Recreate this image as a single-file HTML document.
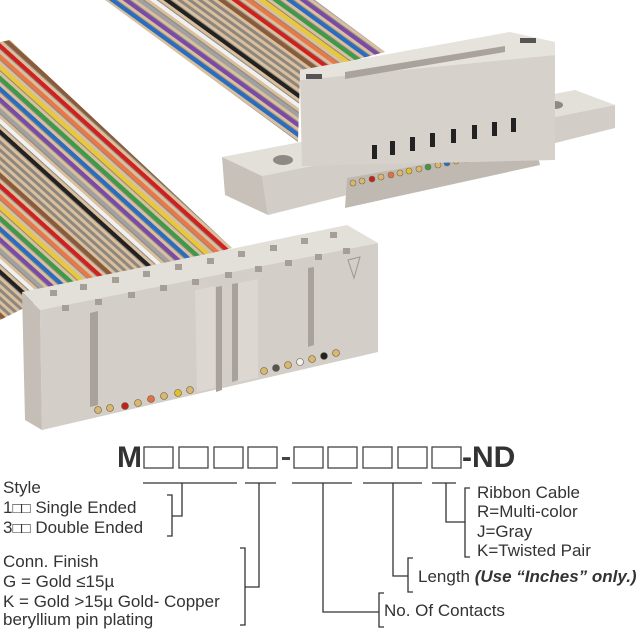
<!DOCTYPE html>
<html><head><meta charset="utf-8"><style>
html,body{margin:0;padding:0;background:#fff;}
svg{display:block;}
text{font-family:"Liberation Sans",Arial,sans-serif;fill:#333;}
</style></head><body>
<svg width="640" height="640" viewBox="0 0 640 640" xmlns="http://www.w3.org/2000/svg">
<defs>
<pattern id="wl" width="104" height="8" patternUnits="userSpaceOnUse" patternTransform="rotate(-48)">
<rect width="104" height="8" fill="#8d8780"/>
<rect x="0" y="0" width="3" height="8" fill="#d9bf9c"/><rect x="4" y="0" width="4" height="8" fill="#222"/>
<rect x="8" y="0" width="3" height="8" fill="#d9bf9c"/><rect x="12" y="0" width="4" height="8" fill="#f0f0f0"/>
<rect x="16" y="0" width="3" height="8" fill="#d9bf9c"/><rect x="20" y="0" width="4" height="8" fill="#a0a0a0"/>
<rect x="24" y="0" width="3" height="8" fill="#d9bf9c"/><rect x="28" y="0" width="4" height="8" fill="#7a4aa8"/>
<rect x="32" y="0" width="3" height="8" fill="#d9bf9c"/><rect x="36" y="0" width="4" height="8" fill="#2a6cc0"/>
<rect x="40" y="0" width="3" height="8" fill="#d9bf9c"/><rect x="44" y="0" width="4" height="8" fill="#3c9a48"/>
<rect x="48" y="0" width="3" height="8" fill="#d9bf9c"/><rect x="52" y="0" width="4" height="8" fill="#e8c838"/>
<rect x="56" y="0" width="3" height="8" fill="#d9bf9c"/><rect x="60" y="0" width="4" height="8" fill="#e8784a"/>
<rect x="64" y="0" width="3" height="8" fill="#d9bf9c"/><rect x="68" y="0" width="4" height="8" fill="#d02020"/>
<rect x="72" y="0" width="3" height="8" fill="#d9bf9c"/><rect x="76" y="0" width="4" height="8" fill="#8a5a3a"/>
<rect x="80" y="0" width="3" height="8" fill="#d9bf9c"/><rect x="86" y="0" width="3" height="8" fill="#d9bf9c"/>
<rect x="92" y="0" width="3" height="8" fill="#d9bf9c"/><rect x="98" y="0" width="3" height="8" fill="#d9bf9c"/>
</pattern>
<pattern id="wv" width="8" height="104" patternUnits="userSpaceOnUse" patternTransform="rotate(36)">
<rect width="8" height="104" fill="#8d8780"/>
<rect y="0" width="8" height="3" fill="#d9bf9c"/><rect y="4" width="8" height="4" fill="#222"/>
<rect y="8" width="8" height="3" fill="#d9bf9c"/><rect y="12" width="8" height="4" fill="#f0f0f0"/>
<rect y="16" width="8" height="3" fill="#d9bf9c"/><rect y="20" width="8" height="4" fill="#a0a0a0"/>
<rect y="24" width="8" height="3" fill="#d9bf9c"/><rect y="28" width="8" height="4" fill="#7a4aa8"/>
<rect y="32" width="8" height="3" fill="#d9bf9c"/><rect y="36" width="8" height="4" fill="#2a6cc0"/>
<rect y="40" width="8" height="3" fill="#d9bf9c"/><rect y="44" width="8" height="4" fill="#3c9a48"/>
<rect y="48" width="8" height="3" fill="#d9bf9c"/><rect y="52" width="8" height="4" fill="#e8c838"/>
<rect y="56" width="8" height="3" fill="#d9bf9c"/><rect y="60" width="8" height="4" fill="#e8784a"/>
<rect y="64" width="8" height="3" fill="#d9bf9c"/><rect y="68" width="8" height="4" fill="#d02020"/>
<rect y="72" width="8" height="3" fill="#d9bf9c"/><rect y="76" width="8" height="4" fill="#8a5a3a"/>
<rect y="80" width="8" height="3" fill="#d9bf9c"/><rect y="86" width="8" height="3" fill="#d9bf9c"/>
<rect y="92" width="8" height="3" fill="#d9bf9c"/><rect y="98" width="8" height="3" fill="#d9bf9c"/>
</pattern>
</defs>

<polygon points="105,0 315,0 385,52 300,75 298,142" fill="url(#wv)"/>
<polygon points="0,42 10,40 232,248 40,300 0,320" fill="url(#wl)"/>

<polygon points="222,157 575,90 615,105 262,176" fill="#e3dfd9"/>
<polygon points="262,176 615,105 615,128 268,215" fill="#d2cdc6"/>
<polygon points="222,157 262,176 268,215 225,195" fill="#c7c1b9"/>
<ellipse cx="283" cy="160" rx="10" ry="5" fill="#8f8983"/>
<ellipse cx="555" cy="105" rx="8" ry="4" fill="#8f8983"/>
<polygon points="347,178 535,145 540,165 345,208" fill="#bfb9b1"/>
<g fill="#d8b870" stroke="#7a6a4a" stroke-width="0.6">
<circle cx="353" cy="183" r="3"/><circle cx="362" cy="181" r="3"/><circle cx="372" cy="179" r="3" fill="#c02020"/><circle cx="381" cy="177" r="3"/><circle cx="391" cy="175" r="3" fill="#e0704a"/><circle cx="400" cy="173" r="3"/><circle cx="409" cy="171" r="3" fill="#e0c030"/><circle cx="419" cy="169" r="3"/><circle cx="428" cy="167" r="3" fill="#3a9a48"/><circle cx="438" cy="165" r="3"/><circle cx="447" cy="163" r="3" fill="#2a6cc0"/><circle cx="456" cy="161" r="3"/><circle cx="466" cy="159" r="3" fill="#7a4aa8"/><circle cx="475" cy="157" r="3"/><circle cx="484" cy="155" r="3" fill="#a0a0a0"/><circle cx="494" cy="153" r="3"/><circle cx="503" cy="151" r="3" fill="#f0f0f0"/><circle cx="512" cy="149" r="3"/><circle cx="522" cy="147" r="3" fill="#222"/><circle cx="531" cy="146" r="3"/>
</g>
<polygon points="300,80 300,70 510,32 555,42 555,55" fill="#e6e2dc"/>
<polygon points="300,80 555,55 555,160 302,166" fill="#d6d1ca"/>
<polygon points="345,72 505,46 505,52 345,79" fill="#a9a39b"/>
<g fill="#222">
<rect x="372" y="145" width="5" height="14"/><rect x="390" y="141" width="5" height="14"/><rect x="410" y="137" width="5" height="14"/><rect x="430" y="133" width="5" height="14"/><rect x="451" y="129" width="5" height="14"/><rect x="472" y="125" width="5" height="14"/><rect x="492" y="122" width="5" height="14"/><rect x="511" y="118" width="5" height="14"/>
</g>
<g fill="#555">
<rect x="306" y="74" width="16" height="5"/><rect x="520" y="38" width="16" height="5"/>
</g>

<polygon points="22,292 347,225 378,243 40,310" fill="#e3dfd9"/>
<polygon points="40,310 378,243 378,352 42,430" fill="#d3cec7"/>
<polygon points="22,292 40,310 42,430 25,420" fill="#c4beb6"/>
<g fill="#a59f97">
<rect x="50" y="290" width="7" height="6"/><rect x="80" y="284" width="7" height="6"/><rect x="112" y="277" width="7" height="6"/><rect x="143" y="271" width="7" height="6"/><rect x="175" y="264" width="7" height="6"/><rect x="207" y="258" width="7" height="6"/><rect x="238" y="251" width="7" height="6"/><rect x="270" y="245" width="7" height="6"/><rect x="301" y="238" width="7" height="6"/><rect x="330" y="232" width="7" height="6"/>
<rect x="62" y="305" width="7" height="6"/><rect x="95" y="299" width="7" height="6"/><rect x="128" y="292" width="7" height="6"/><rect x="160" y="285" width="7" height="6"/><rect x="192" y="279" width="7" height="6"/><rect x="225" y="272" width="7" height="6"/><rect x="255" y="266" width="7" height="6"/><rect x="285" y="260" width="7" height="6"/><rect x="315" y="254" width="7" height="6"/><rect x="343" y="248" width="7" height="6"/>
</g>
<g fill="#a8a29a">
<polygon points="90,313 98,311 98,405 90,407"/><polygon points="216,287 222,286 222,390 216,392"/><polygon points="232,284 238,283 238,380 232,382"/><polygon points="308,268 314,267 314,345 308,347"/>
</g>
<polygon points="195,290 215,286 215,388 197,392" fill="#dcd7d0"/>
<polygon points="238,283 258,279 258,378 238,382" fill="#dcd7d0"/>
<polygon points="348,260 360,257 354,278" fill="none" stroke="#999" stroke-width="1"/>
<g fill="#d8b870" stroke="#6a5a3a" stroke-width="0.6">
<circle cx="98" cy="410" r="3.5"/><circle cx="110" cy="408" r="3.5"/><circle cx="125" cy="406" r="3.5" fill="#c02020"/><circle cx="138" cy="403" r="3.5"/><circle cx="151" cy="399" r="3.5" fill="#e0704a"/><circle cx="164" cy="396" r="3.5"/><circle cx="178" cy="393" r="3.5" fill="#e0c030"/><circle cx="190" cy="390" r="3.5"/>
<circle cx="264" cy="371" r="3.5"/><circle cx="276" cy="368" r="3.5" fill="#555"/><circle cx="288" cy="365" r="3.5"/><circle cx="300" cy="362" r="3.5" fill="#f0f0f0"/><circle cx="312" cy="359" r="3.5"/><circle cx="324" cy="356" r="3.5" fill="#222"/><circle cx="336" cy="353" r="3.5"/>
</g>

<text x="117" y="467" font-size="30" font-weight="bold">M</text>
<g fill="none" stroke="#444" stroke-width="1.3">
<rect x="144" y="447" width="29" height="21"/><rect x="179" y="447" width="29" height="21"/><rect x="214" y="447" width="29" height="21"/><rect x="248" y="447" width="29" height="21"/>
<rect x="294" y="447" width="29" height="21"/><rect x="328" y="447" width="29" height="21"/><rect x="363" y="447" width="29" height="21"/><rect x="398" y="447" width="29" height="21"/><rect x="432" y="447" width="29" height="21"/>
</g>
<rect x="282" y="457" width="8" height="3" fill="#444"/>
<text x="462" y="467" font-size="30" font-weight="bold">-ND</text>

<g fill="none" stroke="#333" stroke-width="1.3">
<path d="M143,483H237M245,483H276M292,483H352M363,483H422M432,483H456"/>
<path d="M182,483V516H172M167,495H172V536H167"/>
<path d="M259,483V587H245M240,548H245V625H240"/>
<path d="M323,483V612H379M384,593H379V627H384"/>
<path d="M393,483V576H408M413,558H408V592H413"/>
<path d="M446,483V522H465M470,488H465V557H470"/>
</g>

<g font-size="17">
<text x="3" y="493">Style</text>
<text x="3" y="513">1<tspan font-size="15">□□</tspan> Single Ended</text>
<text x="3" y="533">3<tspan font-size="15">□□</tspan> Double Ended</text>
<text x="3" y="567">Conn. Finish</text>
<text x="3" y="587">G = Gold ≤15µ</text>
<text x="3" y="607">K = Gold &gt;15µ Gold- Copper</text>
<text x="3" y="625">beryllium pin plating</text>
<text x="477" y="498">Ribbon Cable</text>
<text x="477" y="517">R=Multi-color</text>
<text x="477" y="537">J=Gray</text>
<text x="477" y="556">K=Twisted Pair</text>
<text x="418" y="582">Length <tspan font-weight="bold" font-style="italic">(Use “Inches” only.)</tspan></text>
<text x="384" y="616">No. Of Contacts</text>
</g>
</svg>
</body></html>
